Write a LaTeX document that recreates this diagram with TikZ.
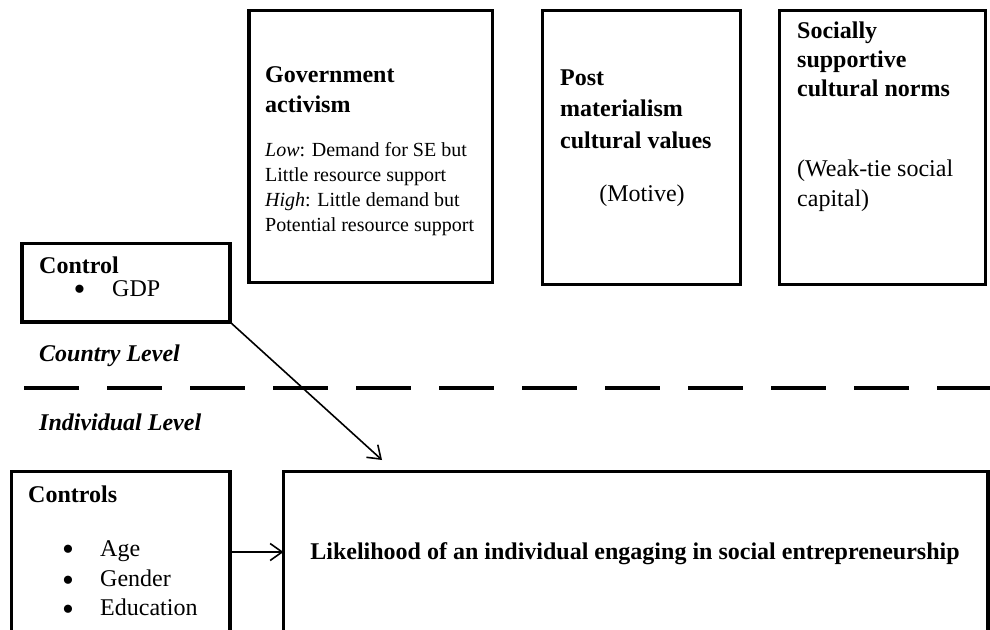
\documentclass[tikz,border=0pt]{standalone}
\usepackage{fontspec}
\setmainfont{Liberation Serif}
\usetikzlibrary{arrows.meta}
\begin{document}
\begin{tikzpicture}[x=1pt,y=-1pt,
  frame/.style={draw, line width=3.6pt, inner sep=0pt, outer sep=0pt, anchor=north west},
  head/.style={inner sep=0pt, anchor=base west, align=left, font=\fontsize{24}{30}\selectfont\bfseries},
  body/.style={inner sep=0pt, anchor=base west, align=left, font=\fontsize{24}{30}\selectfont},
  small/.style={inner sep=0pt, anchor=base west, align=left, font=\fontsize{20}{25}\selectfont},
  lvl/.style={inner sep=0pt, anchor=base west, font=\fontsize{24}{30}\selectfont\bfseries\itshape},
  dot/.style={inner sep=0pt, anchor=center, font=\fontsize{34}{34}\selectfont},
  arr/.style={line width=1.6pt, -{Straight Barb[length=12pt,width=17pt,line width=1.6pt]}},
  levelline/.style={line width=4.5pt, dash pattern=on 55pt off 28pt}
]
\useasboundingbox (0,0) rectangle (990,629);
\clip (0,0) rectangle (990,629);

% country-level boxes
\node[frame, minimum width=243.5pt, minimum height=272pt] (gov) at (249,10.5) {};
\node[frame, minimum width=198pt, minimum height=274pt] (post) at (542.5,10.5) {};
\node[frame, minimum width=206pt, minimum height=274pt] (norms) at (779.5,10.5) {};
\node[frame, minimum width=208pt, minimum height=78.5pt] (ctrl) at (22,243.5) {};

% individual-level boxes
\node[frame, minimum width=218.5pt, minimum height=190pt] (ctrls) at (11.5,471.5) {};
\node[frame, minimum width=704.5pt, minimum height=190pt] (main) at (283.5,471.5) {};

% box texts (multi-line nodes are placed by the baseline of their last line)
\node[head] (govhead) at (265,112) {Government\\activism};
\node[small] (govtext) at (265,231.7) {\textit{Low}: Demand for SE but\\Little resource support\\\textit{High}: Little demand but\\Potential resource support};

\node[head, font=\fontsize{24}{31.6}\selectfont\bfseries] (posthead) at (560,148.3) {Post\\materialism\\cultural values};
\node[body, anchor=base] (motive) at (642,201.7) {(Motive)};

\node[head, font=\fontsize{24}{29.2}\selectfont\bfseries] (normshead) at (797,96.7) {Socially\\supportive\\cultural norms};
\node[body] (normstext) at (797,206.7) {(Weak-tie social\\capital)};

\node[head] (ctrlhead) at (39,273.3) {Control};
\node[dot] (gdpdot) at (79.5,292.5) {\textbullet};
\node[body] (gdp) at (112,296.7) {GDP};

\node[head] (ctrlshead) at (28,502.7) {Controls};
\node[dot] (agedot) at (68,552.5) {\textbullet};
\node[body] (age) at (100,556.7) {Age};
\node[dot] (genderdot) at (68,583.5) {\textbullet};
\node[body] (gender) at (100,586) {Gender};
\node[dot] (edudot) at (68,613) {\textbullet};
\node[body] (edu) at (100,615) {Education};

\node[head, anchor=base] (mainhead) at (635,559) {Likelihood of an individual engaging in social entrepreneurship};

% level labels and divider
\node[lvl] (country) at (39,361.7) {Country Level};
\node[lvl] (individual) at (39,430) {Individual Level};
\coordinate (divl) at (24,388);
\coordinate (divr) at (995,388);
\draw[levelline] (divl) -- (divr);

% connectors
\coordinate (gdptip) at (382,460);
\coordinate (rowy) at (0,552);
\draw[arr] (ctrl.south east) -- (gdptip);
\draw[arr] (ctrls.east |- rowy) -- (main.west |- rowy);
\end{tikzpicture}
\end{document}
